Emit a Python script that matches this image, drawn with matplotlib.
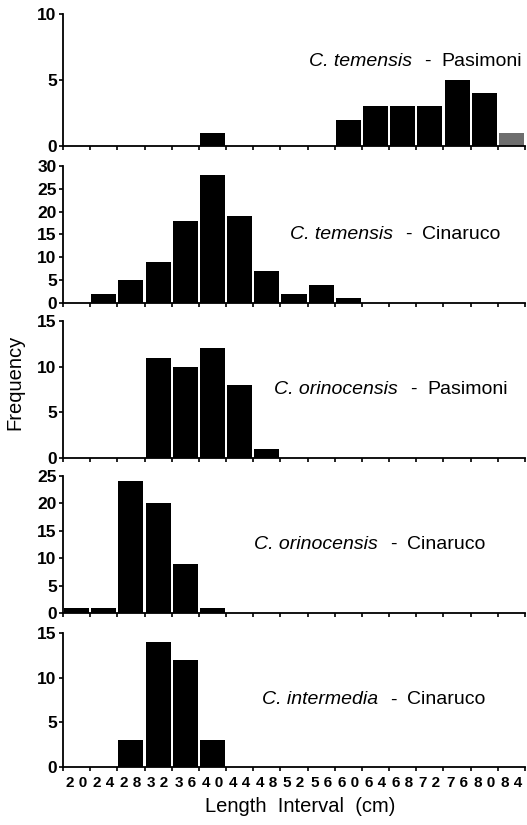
import numpy as np
import matplotlib.pyplot as plt

plt.rcParams["font.family"] = ["Liberation Sans", "DejaVu Sans"]

# length interval bins (cm)
bins = ["20", "24", "28", "32", "36", "40", "44", "48", "52",
        "56", "60", "64", "68", "72", "76", "80", "84"]

# frequencies per bin
temensis_pasimoni = [0, 0, 0, 0, 0, 1, 0, 0, 0, 0, 2, 3, 3, 3, 5, 4, 1]
temensis_cinaruco = [0, 2, 5, 9, 18, 28, 19, 7, 2, 4, 1, 0, 0, 0, 0, 0, 0]
orinocensis_pasimoni = [0, 0, 0, 11, 10, 12, 8, 1, 0, 0, 0, 0, 0, 0, 0, 0, 0]
orinocensis_cinaruco = [1, 1, 24, 20, 9, 1, 0, 0, 0, 0, 0, 0, 0, 0, 0, 0, 0]
intermedia_cinaruco = [0, 0, 3, 14, 12, 3, 0, 0, 0, 0, 0, 0, 0, 0, 0, 0, 0]

species = ["C. temensis", "C. temensis", "C. orinocensis",
           "C. orinocensis", "C. intermedia"]
sites = ["Pasimoni", "Cinaruco", "Pasimoni", "Cinaruco", "Cinaruco"]
series = [temensis_pasimoni, temensis_cinaruco, orinocensis_pasimoni,
          orinocensis_cinaruco, intermedia_cinaruco]
ymax = [10, 30, 15, 25, 15]
ystep = [5, 5, 5, 5, 5]

W, H = 527, 825
fig = plt.figure(figsize=(W / 100, H / 100), dpi=100)

# panel extents in pixels (top, bottom) and label placement
panel_px = [(14, 146), (166, 303), (321, 458), (476, 613), (633, 767)]
dash_px = [427, 408, 413, 393, 393]
label_y = [0.64, 0.5, 0.5, 0.5, 0.5]
left_px, right_px = 63, 525

x = np.arange(len(bins))
for i, (top, bot) in enumerate(panel_px):
    ax = fig.add_axes([left_px / W, 1 - bot / H,
                       (right_px - left_px) / W, (bot - top) / H])
    colors = ["black"] * len(bins)
    if i == 0:
        colors[-1] = "#6e6e6e"
    ax.bar(x + 0.5, series[i], width=0.92, color=colors, linewidth=0)
    ax.set_xlim(0, len(bins))
    ax.set_ylim(0, ymax[i])
    ax.set_yticks(np.arange(0, ymax[i] + 1, ystep[i]))
    ax.set_xticks(np.arange(len(bins) + 1))
    ax.set_xticks(x + 0.5, minor=True)
    ax.tick_params(axis="x", which="major", length=3, width=1.2,
                   labelbottom=False)
    ax.tick_params(axis="x", which="minor", length=0, pad=6.5,
                   labelsize=11)
    if i == len(panel_px) - 1:
        ax.set_xticklabels([" ".join(b) for b in bins], minor=True,
                           fontweight="bold")
    else:
        ax.tick_params(axis="x", which="minor", labelbottom=False)
    ax.tick_params(axis="y", length=3, width=1.2, pad=1.5, labelsize=12.5)
    for lab in ax.get_yticklabels():
        lab.set_fontweight("bold")
    for s in ["top", "right"]:
        ax.spines[s].set_visible(False)
    for s in ["left", "bottom"]:
        ax.spines[s].set_linewidth(1.3)
    ax.patch.set_alpha(0)

    hx = (dash_px[i] - left_px) / (right_px - left_px) * len(bins)
    ax.annotate("-", xy=(hx, label_y[i]),
                xycoords=("data", "axes fraction"),
                ha="center", va="center", fontsize=14)
    ax.annotate(species[i], xy=(hx, label_y[i]),
                xycoords=("data", "axes fraction"),
                xytext=(-11, 0), textcoords="offset points",
                ha="right", va="center", fontsize=14, style="italic")
    ax.annotate(sites[i], xy=(hx, label_y[i]),
                xycoords=("data", "axes fraction"),
                xytext=(10, 0), textcoords="offset points",
                ha="left", va="center", fontsize=14)

fig.text(15 / W, 1 - 382 / H, "Frequency", rotation=90,
         ha="center", va="center", fontsize=14.5)
fig.text(300 / W, 1 - 807 / H, "Length  Interval  (cm)",
         ha="center", va="center", fontsize=14.5)

fig.savefig("out.png", dpi=100)
